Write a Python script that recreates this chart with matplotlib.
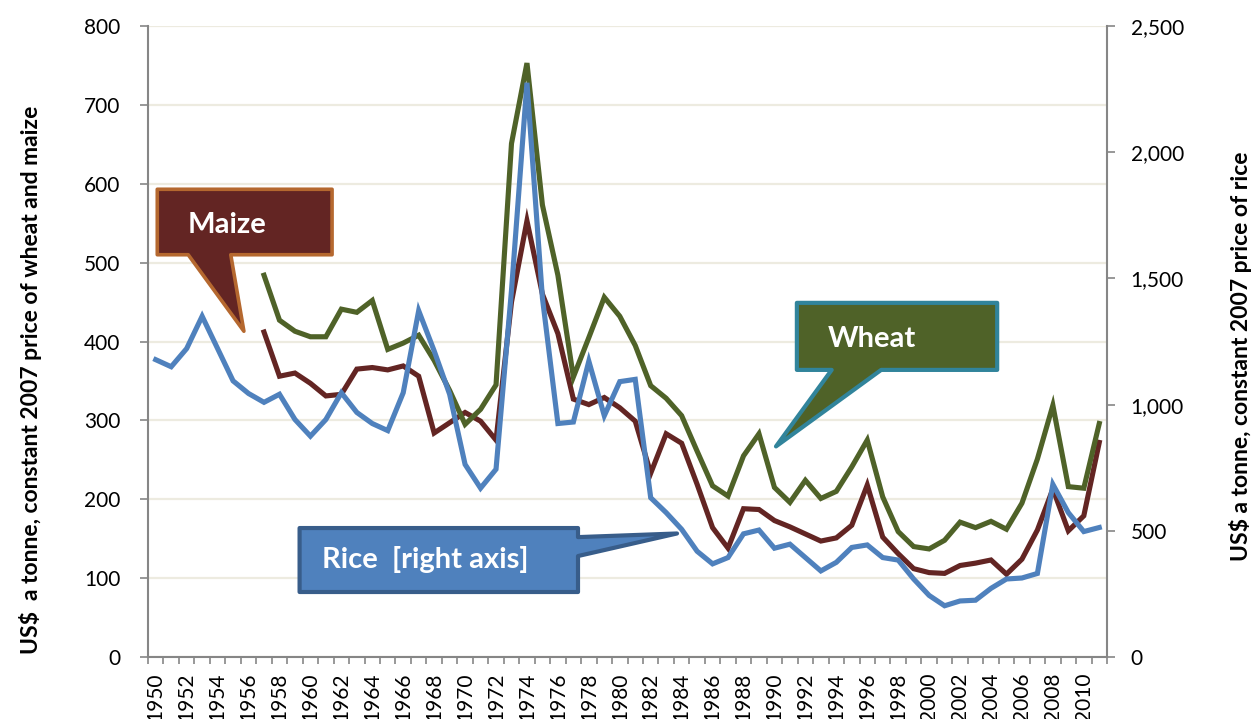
import numpy as np
import matplotlib
matplotlib.use('Agg')
import matplotlib.pyplot as plt
from matplotlib.patches import Polygon
from matplotlib.ticker import FuncFormatter

plt.rcParams['font.family'] = ['Lato', 'DejaVu Sans']

# --- data ---
years = list(range(1950, 2012))

# wheat and maize start in 1957, left axis (US$/t)
wheat_years = list(range(1957, 2012))
wheat = [484, 427, 413, 406, 406, 441, 437, 452, 390, 398,
         408, 376, 338, 295, 314, 345, 651, 753, 573, 484,
         355, 405, 456, 432, 395, 344, 328, 306, 261, 217,
         204, 255, 283, 215, 196, 224, 201, 210, 241, 275,
         203, 159, 140, 137, 148, 171, 164, 172, 162, 195,
         251, 319, 216, 214, 296]

maize_years = list(range(1957, 2012))
maize = [412, 356, 360, 347, 331, 333, 365, 367, 364, 369,
         356, 284, 297, 310, 299, 275, 450, 553, 460, 410,
         327, 320, 329, 316, 299, 233, 283, 271, 219, 164,
         138, 188, 187, 173, 165, 156, 147, 151, 167, 218,
         152, 131, 112, 107, 106, 116, 119, 123, 105, 124,
         161, 213, 160, 179, 272]

# rice 1950-2011, right axis (US$/t)
rice = [1178, 1150, 1222, 1350, 1222, 1094, 1044, 1009, 1041, 941,
        875, 941, 1047, 969, 925, 897, 1047, 1372, 1213, 1041,
        763, 669, 744, 1453, 2275, 1422, 925, 931, 1172, 956,
        1091, 1100, 631, 572, 506, 419, 369, 394, 488, 503,
        431, 447, 394, 341, 375, 434, 444, 394, 384, 309,
        244, 203, 222, 225, 272, 309, 313, 331, 684, 572,
        497, 513]

left_ticks = [0, 100, 200, 300, 400, 500, 600, 700, 800]
right_ticks = [0, 500, 1000, 1500, 2000, 2500]
year_labels = list(range(1950, 2011, 2))

WHEAT_C = '#4F6228'
MAIZE_C = '#632523'
RICE_C = '#4F81BD'
GRID_C = '#EDEBE0'
AXIS_C = '#868686'

fig = plt.figure(figsize=(12.52, 7.19), dpi=100)
ax = fig.add_axes([148/1252, 62/719, 959/1252, 631/719])
ax2 = ax.twinx()

ax.plot(maize_years, maize, color=MAIZE_C, lw=3.7, solid_joinstyle='miter', zorder=3)
ax.plot(wheat_years, wheat, color=WHEAT_C, lw=3.7, solid_joinstyle='miter', zorder=3)
ax2.plot(years, rice, color=RICE_C, lw=3.7, solid_joinstyle='miter', zorder=3)

ax.set_xlim(1949.5, 2011.5)
ax.set_ylim(0, 800)
ax2.set_ylim(0, 2500)

ax.set_yticks(left_ticks)
ax2.set_yticks(right_ticks)
ax2.yaxis.set_major_formatter(FuncFormatter(lambda v, p: f'{int(v):,}'))
ax.yaxis.grid(True, color=GRID_C, lw=1.6)
ax.set_axisbelow(True)

ax.set_xticks(year_labels)
ax.set_xticklabels([str(y) for y in year_labels], rotation=90, va='top')
ax.set_xticks(np.arange(1949.5, 2012, 1), minor=True)
ax.tick_params(axis='x', which='major', length=0, pad=11, labelsize=15)
ax.tick_params(axis='x', which='minor', length=5, width=1.2, color=AXIS_C)
ax.tick_params(axis='y', length=6, width=1.2, color=AXIS_C, pad=14, labelsize=15)
ax2.tick_params(axis='y', length=6, width=1.2, color=AXIS_C, pad=11, labelsize=15)

for s in ['top', 'right']:
    ax.spines[s].set_visible(False)
for s in ['top', 'left', 'bottom']:
    ax2.spines[s].set_visible(False)
ax.spines['left'].set_color(AXIS_C)
ax.spines['bottom'].set_color(AXIS_C)
ax2.spines['right'].set_color(AXIS_C)
for sp in [ax.spines['left'], ax.spines['bottom'], ax2.spines['right']]:
    sp.set_linewidth(1.5)

ax.set_ylabel('US$  a tonne, constant 2007 price of wheat and maize',
              fontsize=16.5, fontweight='bold', va='center')
ax.yaxis.set_label_coords(-0.123, 0.44)
ax2.set_ylabel('US$ a tonne, constant 2007 price of rice',
               fontsize=16.5, fontweight='bold', va='center', rotation=90)
ax2.yaxis.set_label_coords(1.139, 0.477)

# --- callouts (left-axis data coordinates) ---
maize_box = [(1950.1, 593), (1961.4, 593), (1961.4, 510), (1954.85, 510),
             (1955.7, 413), (1952.1, 510), (1950.1, 510)]
wheat_box = [(1991.45, 449), (2004.4, 449), (2004.4, 364), (1996.9, 364),
             (1990.1, 267), (1993.7, 364), (1991.45, 364)]
rice_box = [(1959.3, 163.5), (1977.3, 163.5), (1977.3, 152), (1983.7, 156.6),
            (1977.3, 128), (1977.3, 82.4), (1959.3, 82.4)]

ax.add_patch(Polygon(maize_box, closed=True, fc=MAIZE_C, ec='#B5682F', lw=2.6,
                     joinstyle='round', zorder=5, clip_on=False))
ax.add_patch(Polygon(wheat_box, closed=True, fc=WHEAT_C, ec='#31849B', lw=3,
                     joinstyle='round', zorder=5, clip_on=False))
ax.add_patch(Polygon(rice_box, closed=True, fc=RICE_C, ec='#385D8A', lw=3,
                     joinstyle='round', zorder=5, clip_on=False))

ax.text(1954.6, 548, 'Maize', color='white', fontsize=21, fontweight='bold',
        ha='center', va='center', zorder=6)
ax.text(1996.3, 403, 'Wheat', color='white', fontsize=21, fontweight='bold',
        ha='center', va='center', zorder=6)
ax.text(1967.4, 124, 'Rice  [right axis]', color='white', fontsize=21, fontweight='bold',
        ha='center', va='center', zorder=6)

fig.savefig('out.png', dpi=100)
